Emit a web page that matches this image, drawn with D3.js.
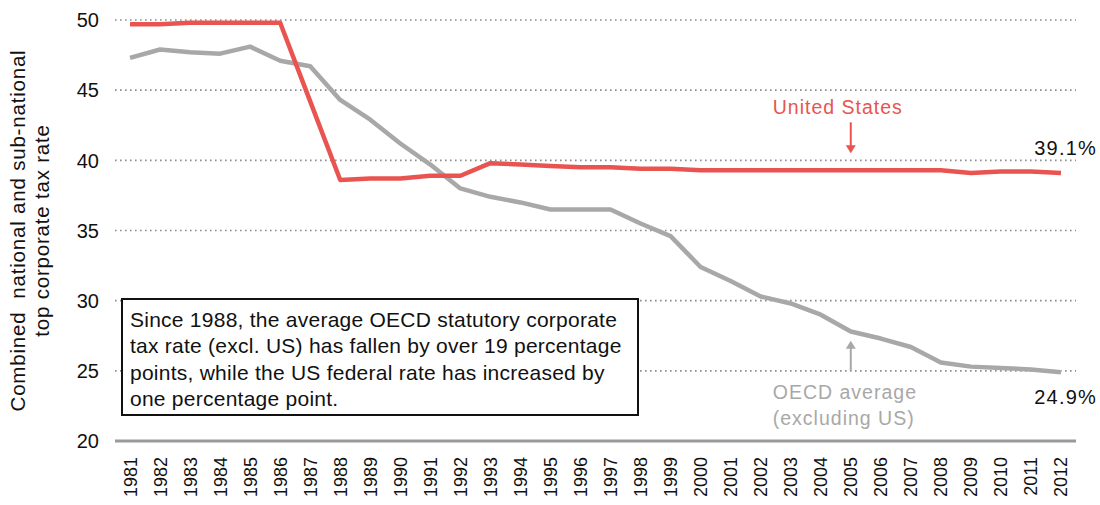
<!DOCTYPE html>
<html>
<head>
<meta charset="utf-8">
<script src="https://cdn.jsdelivr.net/npm/d3@7"></script>
<style>
  body { margin: 0; background: #fff; }
  text { font-family: "Helvetica Neue", Arial, "Liberation Sans", sans-serif; }
</style>
</head>
<body>
<div id="chart"></div>
<script>
const years = d3.range(1981, 2013);
const usRate = [49.7, 49.7, 49.8, 49.8, 49.8, 49.8, 44.2, 38.6, 38.7, 38.7, 38.9, 38.9,
  39.8, 39.7, 39.6, 39.5, 39.5, 39.4, 39.4, 39.3, 39.3, 39.3, 39.3, 39.3, 39.3, 39.3,
  39.3, 39.3, 39.1, 39.2, 39.2, 39.1];
const oecdRate = [47.3, 47.9, 47.7, 47.6, 48.1, 47.1, 46.7, 44.3, 42.9, 41.2, 39.7, 38.0,
  37.4, 37.0, 36.5, 36.5, 36.5, 35.5, 34.6, 32.4, 31.4, 30.3, 29.8, 29.0, 27.8, 27.3,
  26.7, 25.6, 25.3, 25.2, 25.1, 24.9];
const yTicks = [20, 25, 30, 35, 40, 45, 50];
const noteLines = [
  "Since 1988, the average OECD statutory corporate",
  "tax rate (excl. US) has fallen by over 19 percentage",
  "points, while the US federal rate has increased by",
  "one percentage point."
];

const W = 1100, H = 505;
const margin = {left: 115, right: 24, top: 20, bottom: 64};
const red = "#e95450", grey = "#a8a8a7";

const svg = d3.select("#chart").append("svg")
  .attr("width", W).attr("height", H);

const x = d3.scalePoint().domain(years)
  .range([margin.left, W - margin.right]).padding(0.5);
const y = d3.scaleLinear().domain([20, 50])
  .range([H - margin.bottom, margin.top]);

// gridlines
svg.append("g").selectAll("line")
  .data(yTicks.filter(d => d > 20))
  .join("line")
    .attr("x1", margin.left).attr("x2", W - margin.right)
    .attr("y1", d => y(d)).attr("y2", d => y(d))
    .attr("stroke", "#8c8c8c").attr("stroke-width", 1.6)
    .attr("stroke-dasharray", "1.6,3.4");

// baseline
svg.append("line")
  .attr("x1", margin.left).attr("x2", W - margin.right)
  .attr("y1", y(20)).attr("y2", y(20))
  .attr("stroke", "#9a9a9a").attr("stroke-width", 3);

// y tick labels
svg.append("g").selectAll("text")
  .data(yTicks)
  .join("text")
    .attr("x", 99).attr("y", d => y(d))
    .attr("dy", "0.36em").attr("text-anchor", "end")
    .attr("font-size", 20).attr("fill", "#111")
    .text(d => d);

// x tick labels
svg.append("g").selectAll("text")
  .data(years)
  .join("text")
    .attr("transform", d => `translate(${x(d)},${y(20) + 16}) rotate(-90)`)
    .attr("dy", "0.36em").attr("text-anchor", "end")
    .attr("font-size", 18).attr("fill", "#111")
    .text(d => d);

// y axis title
const yTitle = svg.append("text")
  .attr("transform", `translate(25,${(y(20) + y(50)) / 2}) rotate(-90)`)
  .attr("text-anchor", "middle").attr("font-size", 20.5)
  .attr("letter-spacing", 0.8).attr("fill", "#111");
yTitle.append("tspan").attr("x", 0).attr("dy", 0)
  .text("Combined\u00a0 national and sub-national");
yTitle.append("tspan").attr("x", 0).attr("dy", 24).text("top corporate tax rate");

// lines
const line = d3.line().x((d, i) => x(years[i])).y(d => y(d));
svg.append("path").datum(oecdRate)
  .attr("fill", "none").attr("stroke", grey).attr("stroke-width", 4.5)
  .attr("stroke-linejoin", "round").attr("d", line);
svg.append("path").datum(usRate)
  .attr("fill", "none").attr("stroke", red).attr("stroke-width", 4.5)
  .attr("stroke-linejoin", "round").attr("d", line);

// series labels with arrows
const ax = x(2005);
const labelX = ax - 78;
svg.append("text").attr("x", labelX).attr("y", y(40) - 46)
  .attr("font-size", 19.5).attr("letter-spacing", 1).attr("fill", red)
  .text("United States");
svg.append("line").attr("x1", ax).attr("x2", ax)
  .attr("y1", y(40) - 38).attr("y2", y(40) - 12)
  .attr("stroke", red).attr("stroke-width", 2);
svg.append("path")
  .attr("d", `M${ax - 5},${y(40) - 15}L${ax + 5},${y(40) - 15}L${ax},${y(40) - 7}Z`)
  .attr("fill", red);

svg.append("line").attr("x1", ax).attr("x2", ax)
  .attr("y1", y(25)).attr("y2", y(25) - 24)
  .attr("stroke", grey).attr("stroke-width", 2);
svg.append("path")
  .attr("d", `M${ax - 5},${y(25) - 22}L${ax + 5},${y(25) - 22}L${ax},${y(25) - 30}Z`)
  .attr("fill", grey);
svg.append("text").attr("x", labelX).attr("y", y(25) + 28)
  .attr("font-size", 19.5).attr("letter-spacing", 1).attr("fill", grey)
  .text("OECD average");
svg.append("text").attr("x", labelX).attr("y", y(25) + 54)
  .attr("font-size", 19.5).attr("letter-spacing", 1).attr("fill", grey)
  .text("(excluding US)");

// end values
svg.append("text").attr("x", 1097).attr("y", y(usRate[usRate.length - 1]) - 18)
  .attr("text-anchor", "end").attr("font-size", 20).attr("letter-spacing", 1.2)
  .attr("fill", "#111")
  .text(usRate[usRate.length - 1] + "%");
svg.append("text").attr("x", 1097).attr("y", y(oecdRate[oecdRate.length - 1]) + 32)
  .attr("text-anchor", "end").attr("font-size", 20).attr("letter-spacing", 1.2)
  .attr("fill", "#111")
  .text(oecdRate[oecdRate.length - 1] + "%");

// note box
svg.append("rect").attr("x", 122).attr("y", 299).attr("width", 516).attr("height", 116)
  .attr("fill", "#fff").attr("stroke", "#111").attr("stroke-width", 2);
svg.append("g").selectAll("text")
  .data(noteLines)
  .join("text")
    .attr("x", 130).attr("y", (d, i) => 327 + i * 26.3)
    .attr("font-size", 21).attr("letter-spacing", 0.25).attr("fill", "#111")
    .text(d => d);
</script>
</body>
</html>
